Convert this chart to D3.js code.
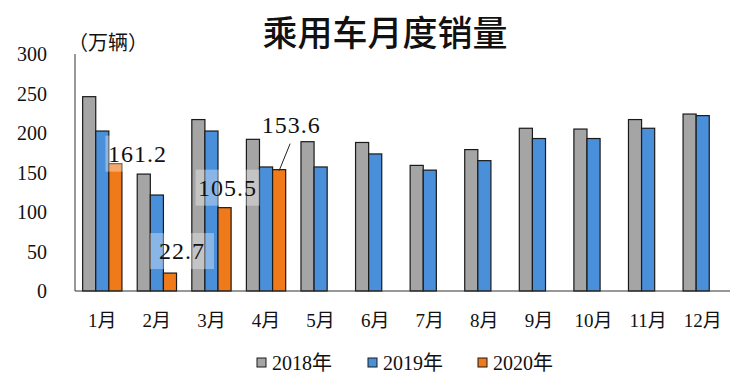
<!DOCTYPE html>
<html><head><meta charset="utf-8">
<script src="https://cdn.jsdelivr.net/npm/d3@7"></script>
<style>body{margin:0;background:#fff}
.sf{font-family:"Liberation Serif","DejaVu Serif","Noto Sans CJK SC",serif}
.cj{font-family:"Noto Sans CJK SC",sans-serif}
</style>
</head><body>
<script>
const months = ["1月","2月","3月","4月","5月","6月","7月","8月","9月","10月","11月","12月"];
const seriesNames = ["2018年","2019年","2020年"];
const v2018 = [246,148,217,192,189,188,159,179,206,205,217,224];
const v2019 = [202.5,121.5,202.5,157,157,173.5,153,165,193,193,206,222];
const v2020 = [161.2,22.7,105.5,153.6,null,null,null,null,null,null,null,null];
const yTicks = [0,50,100,150,200,250,300];
const colors = ["#a5a5a5","#4a8fda","#f07a1a"];

const W=752,H=392;
const svg=d3.select("body").append("svg").attr("width",W).attr("height",H);

const x=d3.scaleBand().domain(months).range([75,730]).paddingInner(0.28).paddingOuter(0.14);
const xs=d3.scaleBand().domain(seriesNames).range([0,x.bandwidth()]);
const y=d3.scaleLinear().domain([0,300]).range([291,54]);

// title
svg.append("text").attr("class","cj").attr("x",385).attr("y",46).attr("text-anchor","middle")
 .attr("font-size",35).attr("font-weight",500).attr("fill","#111").text("乘用车月度销量");
svg.append("text").attr("class","cj").attr("x",68).attr("y",50).attr("font-size",20).attr("fill","#111").text("（万辆）");

// y tick labels
svg.selectAll(".yt").data(yTicks).join("text").attr("class","sf").attr("x",47).attr("y",d=>y(d)+7)
 .attr("text-anchor","end").attr("font-size",20).attr("fill","#111").text(d=>d);

// bars
const all=[v2018,v2019,v2020];
all.forEach((arr,si)=>{
  svg.append("g").selectAll("rect").data(months.map((m,i)=>({m,v:arr[i]})).filter(d=>d.v!=null))
   .join("rect").attr("x",d=>x(d.m)+xs(seriesNames[si])).attr("y",d=>y(d.v))
   .attr("width",xs.bandwidth()).attr("height",d=>y(0)-y(d.v))
   .attr("fill",colors[si]).attr("stroke","#1a1a1a").attr("stroke-width",1.2);
});

// axes lines
svg.append("line").attr("x1",75).attr("x2",75).attr("y1",54).attr("y2",291).attr("stroke","#333").attr("stroke-width",1);
svg.append("line").attr("x1",75).attr("x2",730).attr("y1",291).attr("y2",291).attr("stroke","#333").attr("stroke-width",1.2);

// month labels
svg.selectAll(".mt").data(months).join("text").attr("class","sf").attr("x",d=>x(d)+x.bandwidth()/2).attr("y",327)
 .attr("text-anchor","middle").attr("font-size",19).attr("fill","#111").text(d=>d);

// data labels for 2020
const lab=[{i:0,dx:22,dy:-10,box:true},{i:1,dx:12,dy:-22,box:true},{i:2,dx:3,dy:-20,box:true},{i:3,dx:12,dy:-45,box:false}];
lab.forEach(l=>{
  const m=months[l.i], v=v2020[l.i];
  const cx=x(m)+xs("2020年")+xs.bandwidth()/2+l.dx, cy=y(v)+l.dy;
  if(l.box){
    svg.append("rect").attr("x",cx-32).attr("y",cy-18).attr("width",64).attr("height",36)
     .attr("fill","#fff").attr("opacity",0.35);
  }
  svg.append("text").attr("class","sf").attr("x",cx).attr("y",cy+8).attr("text-anchor","middle")
   .attr("font-size",24).attr("letter-spacing",1).attr("fill","#111").text(v);
  if(!l.box){
    svg.append("line").attr("x1",cx-1).attr("y1",cy+19).attr("x2",x(m)+xs("2020年")+xs.bandwidth()/2).attr("y2",y(v)+1)
     .attr("stroke","#222").attr("stroke-width",1);
  }
});

// legend
const lx=[257,368,478];
seriesNames.forEach((s,i)=>{
  svg.append("rect").attr("x",lx[i]).attr("y",358).attr("width",9).attr("height",9)
   .attr("fill",colors[i]).attr("stroke","#1a1a1a").attr("stroke-width",1);
  svg.append("text").attr("class","sf").attr("x",lx[i]+15).attr("y",370).attr("font-size",20).attr("fill","#111").text(s);
});
</script>
</body></html>
